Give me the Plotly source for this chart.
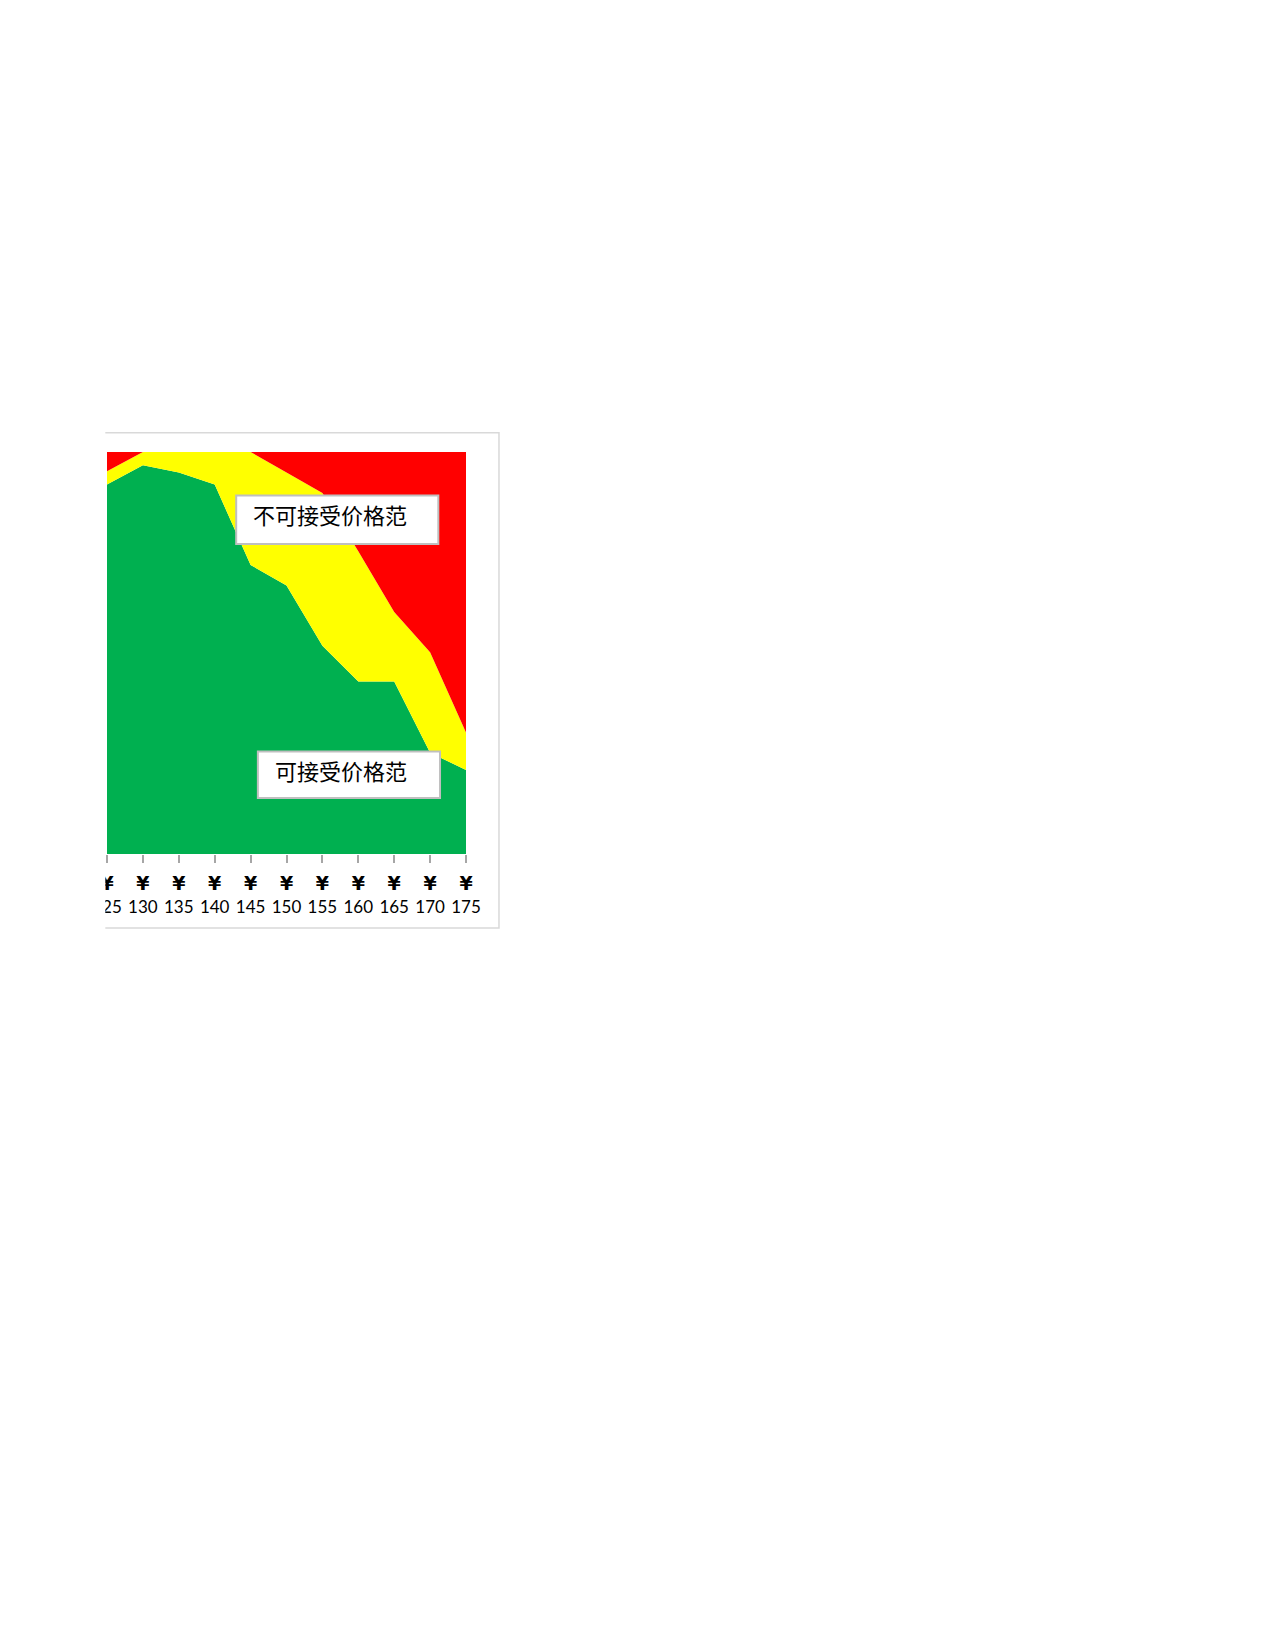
import plotly.graph_objects as go

# ---- data ----
prices = [125, 130, 135, 140, 145, 150, 155, 160, 165, 170, 175]
yen = "<span style='font-family:DejaVu Sans;font-size:19px'><b>¥</b></span>"
tick_labels = [yen + "<br>" + str(p) for p in prices]
acceptable = [91.9, 96.7, 94.9, 91.9, 71.9, 66.8, 51.8, 42.9, 42.9, 25.2, 20.9]
marginal = [3.3, 3.3, 5.1, 8.1, 28.1, 28.1, 38.0, 32.4, 17.3, 25.0, 9.3]
unacceptable = [4.8, 0.0, 0.0, 0.0, 0.0, 5.1, 10.2, 24.7, 39.8, 49.8, 69.8]
label_unacc = "不可接受价格范"
label_acc = "可接受价格范"

# ---- layout geometry (page pixels; page body has an 8px margin) ----
OFF = 8
W, H = 1275 - OFF, 1650 - OFF
PL, PR, PT, PB = 106.7 - OFF, 466.0 - OFF, 452.3 - OFF, 854.0 - OFF


def fx(px):
    return (px - OFF - PL) / (PR - PL)


def fy(py):
    return 1 - (py - OFF - PT) / (PB - PT)


fig = go.Figure()
for name, vals, col in [("可接受", acceptable, "#00B050"),
                        ("边缘", marginal, "#FFFF00"),
                        ("不可接受", unacceptable, "#FF0000")]:
    fig.add_trace(go.Scatter(x=prices, y=vals, name=name, stackgroup="one",
                             mode="lines", line=dict(width=0, color=col),
                             fillcolor=col, hoverinfo="skip"))

shapes = [
    # chart frame
    dict(type="rect", xref="paper", yref="paper", x0=fx(40), x1=fx(499),
         y0=fy(928), y1=fy(433), line=dict(color="#D9D9D9", width=1.5),
         fillcolor="rgba(0,0,0,0)", layer="below"),
    # label boxes
    dict(type="rect", xref="paper", yref="paper", x0=fx(236), x1=fx(438.3),
         y0=fy(544.3), y1=fy(495.7), line=dict(color="#BFBFBF", width=2),
         fillcolor="white", layer="above"),
    dict(type="rect", xref="paper", yref="paper", x0=fx(257.7), x1=fx(440),
         y0=fy(798), y1=fy(751.7), line=dict(color="#BFBFBF", width=2),
         fillcolor="white", layer="above"),
    # clipping of the page on the left
    dict(type="rect", xref="paper", yref="paper", x0=fx(-50), x1=fx(105),
         y0=fy(1000), y1=fy(380), line=dict(width=0),
         fillcolor="white", layer="above"),
]

annotations = [
    dict(xref="paper", yref="paper", x=fx(250.5), y=fy(514), text=label_unacc,
         showarrow=False, xanchor="left", yanchor="middle",
         font=dict(family="Noto Sans CJK SC", size=22, color="black")),
    dict(xref="paper", yref="paper", x=fx(273), y=fy(770), text=label_acc,
         showarrow=False, xanchor="left", yanchor="middle",
         font=dict(family="Noto Sans CJK SC", size=22, color="black")),
]

fig.update_layout(
    width=W, height=H,
    margin=dict(l=PL, r=W - PR, t=PT, b=H - PB, pad=0),
    paper_bgcolor="white", plot_bgcolor="white",
    showlegend=False,
    shapes=shapes, annotations=annotations,
    xaxis=dict(range=[125, 175], tickmode="array", tickvals=prices,
               ticktext=tick_labels, ticks="outside", ticklen=8,
               tickcolor="#A6A6A6", tickwidth=1.5, showgrid=False,
               zeroline=False, showline=False, ticklabelstandoff=7,
               tickfont=dict(family="Lato", size=17, color="black")),
    yaxis=dict(range=[0, 100], visible=False, fixedrange=True),
)

fig.write_html("out.html")
